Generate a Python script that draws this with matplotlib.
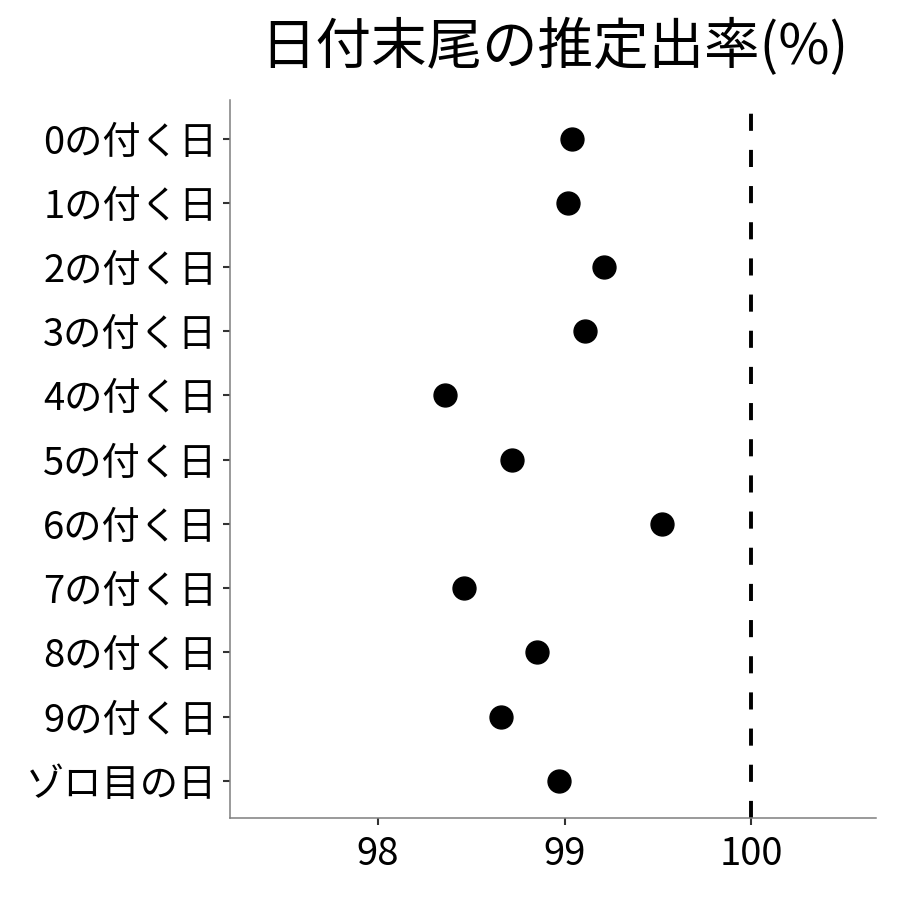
import matplotlib
matplotlib.use("Agg")
import matplotlib.pyplot as plt

plt.rcParams['font.family'] = ['Noto Sans CJK JP', 'DejaVu Sans']

# data
labels = ['0の付く日', '1の付く日', '2の付く日', '3の付く日', '4の付く日',
          '5の付く日', '6の付く日', '7の付く日', '8の付く日', '9の付く日', 'ゾロ目の日']
rates = [99.04, 99.02, 99.21, 99.11, 98.36, 98.72, 99.52, 98.46, 98.85, 98.66, 98.97]
xticks = [98, 99, 100]
ref_line = 100

fig = plt.figure(figsize=(9, 9), dpi=100)
ax = fig.add_axes([0.2556, 0.0911, 0.7177, 0.7978])

ypos = list(range(len(labels)))
ax.plot(rates, ypos, 'o', color='black', markersize=16.5, linestyle='none', zorder=3)
ax.axvline(ref_line, color='black', linewidth=2.8, dashes=(4.4, 4.9), zorder=2)

ax.set_yticks(ypos)
ax.set_yticklabels(labels, fontsize=27.5)
ax.set_ylim(len(labels) - 1 + 0.58, -0.6)

ax.set_xticks(xticks)
ax.set_xticklabels([str(t) for t in xticks], fontsize=27.5)
ax.set_xlim(97.206, 100.67)

for side in ['top', 'right']:
    ax.spines[side].set_visible(False)
for side in ['left', 'bottom']:
    ax.spines[side].set_color('#7f7f7f')
    ax.spines[side].set_linewidth(1.1)

ax.tick_params(axis='both', length=5, width=1.5, color='#333333', labelcolor='black', pad=4)
ax.tick_params(axis='x', pad=7)

fig.suptitle('日付末尾の推定出率(%)', fontsize=40, x=0.6156, y=0.979, va='top')

fig.savefig('out.png', dpi=100)
